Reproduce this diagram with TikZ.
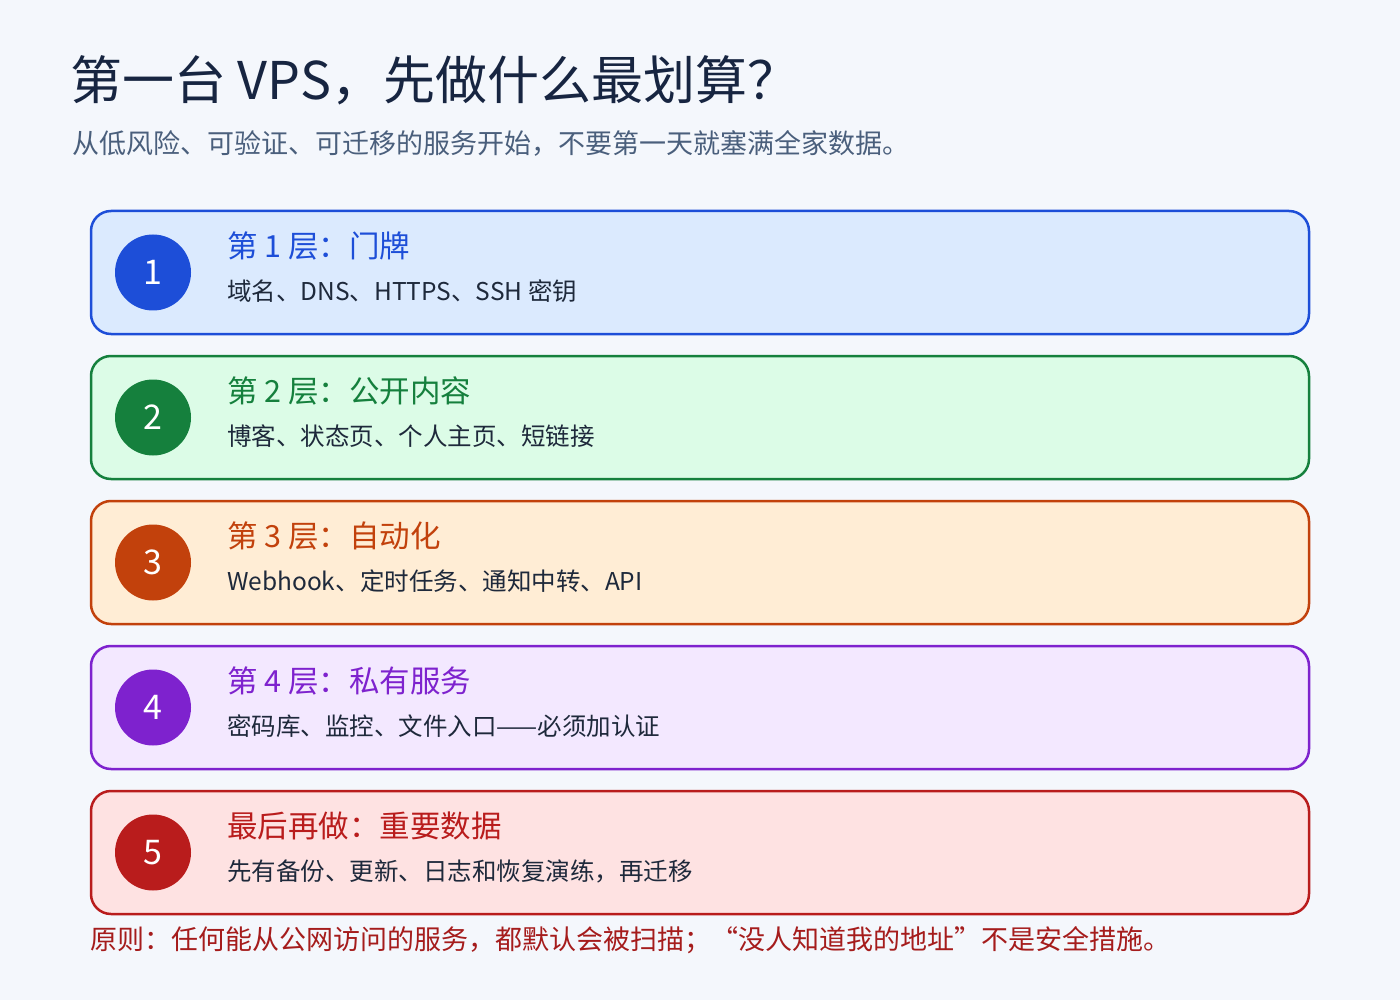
\documentclass[tikz,border=0pt]{standalone}
\usepackage{fontspec}
\setmainfont{Noto Sans CJK SC}
\usetikzlibrary{positioning}
\definecolor{bg}{HTML}{F4F7FC}
\definecolor{ink}{HTML}{172541}
\definecolor{subink}{HTML}{4A5F7C}
\definecolor{bodyink}{HTML}{1E293B}
\definecolor{cA}{HTML}{1D4ED8}\definecolor{fA}{HTML}{DBEAFE}
\definecolor{cB}{HTML}{15803D}\definecolor{fB}{HTML}{DCFCE7}
\definecolor{cC}{HTML}{C2410C}\definecolor{fC}{HTML}{FFEDD5}
\definecolor{cD}{HTML}{7E22CE}\definecolor{fD}{HTML}{F3E8FF}
\definecolor{cE}{HTML}{B91C1C}\definecolor{fE}{HTML}{FEE2E2}
\definecolor{note}{HTML}{A51C1C}
\tikzset{
  card/.style={draw=#1, line width=2.5pt, rounded corners=20pt},
  badge/.style={circle, fill=#1, minimum size=76pt, inner sep=0pt, text=white, font=\fontsize{34}{40}\selectfont},
  cardtitle/.style={anchor=west, inner sep=0pt, text=#1, font=\fontsize{30.5}{36}\selectfont},
  cardbody/.style={anchor=west, inner sep=0pt, text=bodyink, font=\fontsize{24.5}{30}\selectfont},
}
\begin{document}
\begin{tikzpicture}[x=1pt,y=-1pt]
\fill[bg] (0,0) rectangle (1400,1000);
\useasboundingbox (0,0) rectangle (1400,1000);
\node[anchor=west, inner sep=0pt, text=ink, font=\fontsize{52}{60}\selectfont] (title) at (70,80) {第一台 VPS，先做什么最划算？};
\node[anchor=west, inner sep=0pt, text=subink, font=\fontsize{27}{33}\selectfont] (subtitle) at (72,143) {从低风险、可验证、可迁移的服务开始，不要第一天就塞满全家数据。};
\foreach \i/\c/\f/\t/\b in {0/A/1/{第 1 层：门牌}/{域名、DNS、HTTPS、SSH 密钥},
  1/B/2/{第 2 层：公开内容}/{博客、状态页、个人主页、短链接},
  2/C/3/{第 3 层：自动化}/{Webhook、定时任务、通知中转、API},
  3/D/4/{第 4 层：私有服务}/{密码库、监控、文件入口——必须加认证},
  4/E/5/{最后再做：重要数据}/{先有备份、更新、日志和恢复演练，再迁移}}{
  \pgfmathsetmacro{\top}{211+145*\i}
  \fill[f\c, card=c\c] (91,\top) rectangle (1309,\top+123);
  \node[badge=c\c] (n\f) at (153,\top+61.5) {\f};
  \node[cardtitle=c\c] (t\f) at (227,\top+35) {\t};
  \node[cardbody] (b\f) at (227,\top+80) {\b};
}
\node[anchor=west, inner sep=0pt, text=note, font=\fontsize{27}{33}\selectfont] (note) at (90,940) {原则：任何能从公网访问的服务，都默认会被扫描；“没人知道我的地址”不是安全措施。};
\end{tikzpicture}
\end{document}
